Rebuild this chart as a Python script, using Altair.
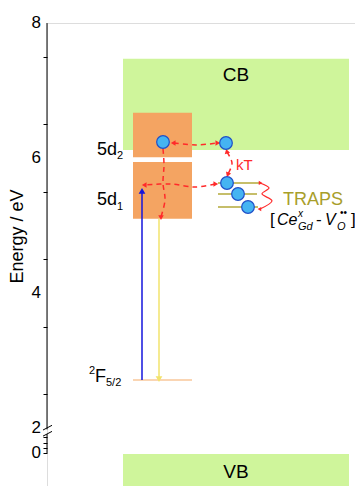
import altair as alt
import pandas as pd

FONT = "Liberation Sans"

# ---- energy axis (eV); values below 2 eV sit on a compressed, broken axis ----
major_ticks = [8, 7.5, 7, 6.5, 6, 5.5, 5, 4.5, 4, 3.5, 3, 2.5, 2]
lower_ticks = [1.63, 1.66, 1.70, 1.74, 1.78, 1.82, 1.86]
tick_label_text = ["8", "6", "4", "2", "0"]
tick_label_pos = [8, 6, 4, 2, 1.63]
axis_top = [8.0, 1.91]
axis_bottom = [1.98, 1.63]
break_x1 = [-4, -4]
break_x2 = [5, 5]
break_y1 = [1.97, 1.88]
break_y2 = [2.04, 1.95]

# ---- bands and 5d levels ----
band_names = ["CB", "VB", "5d2", "5d1"]
band_x1 = [76, 76, 86, 86]
band_x2 = [302, 302, 145, 145]
band_e1 = [6.12, 0.9, 6.01, 5.10]
band_e2 = [7.47, 1.615, 6.67, 5.94]
band_colors = ["#cff59b", "#cff59b", "#f4a462", "#f4a462"]

# ground level 2F5/2
ground_x = [86, 145]
ground_e = [2.71, 2.71]

# excitation (blue) and emission (yellow) arrows
arrow_names = ["excitation", "emission"]
arrow_x = [95, 112]
arrow_e_start = [2.71, 5.10]
arrow_e_end = [5.50, 2.74]
arrow_colors = ["#1414dc", "#f2e36c"]
arrow_angles = [0, 180]

# trap levels
trap_x1 = [171, 171, 171]
trap_x2 = [214, 210, 211]
trap_e = [5.63, 5.467, 5.274]

# electrons
el_x = [116, 179, 180, 191, 201]
el_e = [6.237, 6.222, 5.630, 5.467, 5.274]

# dashed red transfer paths (control points)
p_ids = ["a"] * 3 + ["b"] * 3 + ["c"] * 4 + ["d"] * 5
p_x = [127, 149, 170, 180, 185, 181, 168, 148, 123, 98, 116, 117, 116, 118, 114]
p_e = [6.222, 6.193, 6.222, 6.089, 5.926, 5.763, 5.615, 5.570, 5.615, 5.600,
       6.133, 5.896, 5.630, 5.378, 5.13]

# red arrowheads on the dashed paths
head_x = [127, 170, 180, 181, 98, 168, 114]
head_e = [6.222, 6.222, 6.089, 5.763, 5.600, 5.615, 5.13]
head_angle = [270, 90, 345, 200, 270, 90, 180]

# solid red trap-to-trap curve
c_x = [213, 222, 215, 225, 213]
c_e = [5.630, 5.556, 5.467, 5.363, 5.244]

# texts
txt = ["CB", "VB", "5d", "2", "5d", "1", "2", "F", "5/2", "kT", "TRAPS"]
txt_x = [189, 189, 50, 70, 50, 70, 42, 48, 59, 189, 236]
txt_e = [7.23, 1.348, 6.044, 5.99, 5.304, 5.23, 2.80, 2.681, 2.622, 5.822, 5.304]
txt_size = [19, 19, 18, 11, 18, 11, 11, 18, 11, 15, 18]
txt_color = ["#000000"] * 9 + ["#ff2a2a", "#a89e2a"]
txt_baseline = ["middle", "middle"] + ["alphabetic"] * 9

# defect notation [Ce^x_Gd - V_O^..]
def_txt = ["[", "Ce", "x", "Gd", "-", "V", "\u2022\u2022", "O", "]"]
def_x = [223, 230, 251, 251, 269, 278, 293, 290, 304]
def_e = [5.007, 5.007, 5.126, 4.933, 5.007, 5.007, 5.14, 4.933, 5.007]
def_size = [17, 16, 10, 11, 17, 16, 10, 11, 17]
def_italic = ["normal", "italic", "italic", "italic", "normal", "italic", "normal", "italic", "normal"]

# ---------------- build ----------------
xs = alt.Scale(domain=[0, 308], nice=False, zero=False)
ys = alt.Scale(domain=[1.141, 8.0], nice=False, zero=False)

bands = pd.DataFrame({"name": band_names, "x1": band_x1, "x2": band_x2,
                      "e1": band_e1, "e2": band_e2, "c": band_colors})
band_layer = alt.Chart(bands).mark_rect(clip=True).encode(
    x=alt.X("x1:Q", scale=xs, axis=None),
    x2="x2:Q",
    y=alt.Y("e1:Q", scale=ys, axis=alt.Axis(
        values=major_ticks + lower_ticks, labels=False, domain=False, grid=False,
        tickSize=4, tickColor="#000000", tickWidth=1,
        title="Energy / eV", titleFont=FONT,
        titleFontSize=18, titleFontWeight="normal", titleColor="#000000",
        titleX=-30, titleY=213, titleAngle=270, titleAlign="center", titleBaseline="middle")),
    y2="e2:Q",
    color=alt.Color("c:N", scale=None),
)

ldf = pd.DataFrame({"t": tick_label_text, "e": tick_label_pos, "x": [-6] * len(tick_label_pos)})
tick_label_layer = alt.Chart(ldf).mark_text(font=FONT, fontSize=17, align="right", baseline="middle",
                                            color="#000000").encode(
    x=alt.X("x:Q", scale=xs), y=alt.Y("e:Q", scale=ys), text="t:N")

axis_df = pd.DataFrame({"x": [0, 0], "e1": axis_top, "e2": axis_bottom})
axis_layer = alt.Chart(axis_df).mark_rule(color="#000000", strokeWidth=1).encode(
    x=alt.X("x:Q", scale=xs), y=alt.Y("e1:Q", scale=ys), y2="e2:Q")

brk = pd.DataFrame({"x1": break_x1, "x2": break_x2, "y1": break_y1, "y2": break_y2})
break_layer = alt.Chart(brk).mark_rule(color="#000000", strokeWidth=1).encode(
    x=alt.X("x1:Q", scale=xs), x2="x2:Q", y=alt.Y("y1:Q", scale=ys), y2="y2:Q")

gdf = pd.DataFrame({"x": [ground_x[0]], "x2": [ground_x[1]], "e": [ground_e[0]]})
ground_layer = alt.Chart(gdf).mark_rule(color="#f8c79a", strokeWidth=1.5).encode(
    x=alt.X("x:Q", scale=xs), x2="x2:Q", y=alt.Y("e:Q", scale=ys))

adf = pd.DataFrame({"n": arrow_names, "x": arrow_x, "e1": arrow_e_start, "e2": arrow_e_end,
                    "c": arrow_colors, "a": arrow_angles})
arrow_layer = alt.Chart(adf).mark_rule(strokeWidth=1.5).encode(
    x=alt.X("x:Q", scale=xs), y=alt.Y("e1:Q", scale=ys), y2="e2:Q",
    color=alt.Color("c:N", scale=None))
arrowhead_layer = alt.Chart(adf).mark_point(shape="triangle", filled=True, opacity=1, size=45).encode(
    x=alt.X("x:Q", scale=xs), y=alt.Y("e2:Q", scale=ys),
    color=alt.Color("c:N", scale=None), angle=alt.Angle("a:Q", scale=None))

tdf = pd.DataFrame({"x1": trap_x1, "x2": trap_x2, "e": trap_e})
trap_layer = alt.Chart(tdf).mark_rule(color="#b3a838", strokeWidth=1.5).encode(
    x=alt.X("x1:Q", scale=xs), x2="x2:Q", y=alt.Y("e:Q", scale=ys))

pdf = pd.DataFrame({"id": p_ids, "x": p_x, "e": p_e, "o": list(range(len(p_x)))})
path_layer = alt.Chart(pdf).mark_line(color="#ff2a2a", strokeWidth=1.5, strokeDash=[5, 4],
                                      interpolate="cardinal").encode(
    x=alt.X("x:Q", scale=xs), y=alt.Y("e:Q", scale=ys), detail="id:N", order="o:Q")

hdf = pd.DataFrame({"x": head_x, "e": head_e, "a": head_angle})
head_layer = alt.Chart(hdf).mark_point(shape="triangle", filled=True, opacity=1, size=30,
                                       color="#ff2a2a").encode(
    x=alt.X("x:Q", scale=xs), y=alt.Y("e:Q", scale=ys), angle=alt.Angle("a:Q", scale=None))

cdf = pd.DataFrame({"x": c_x, "e": c_e, "o": list(range(len(c_x)))})
curve_layer = alt.Chart(cdf).mark_line(color="#ff2a2a", strokeWidth=1.2, interpolate="cardinal").encode(
    x=alt.X("x:Q", scale=xs), y=alt.Y("e:Q", scale=ys), order="o:Q")
curve_heads = alt.Chart(pd.DataFrame({"x": [c_x[0], c_x[-1]], "e": [c_e[0], c_e[-1]], "a": [90, 270]})).mark_point(
    shape="triangle", filled=True, opacity=1, size=18, color="#ff2a2a").encode(
    x=alt.X("x:Q", scale=xs), y=alt.Y("e:Q", scale=ys), angle=alt.Angle("a:Q", scale=None))

edf = pd.DataFrame({"x": el_x, "e": el_e})
el_layer = alt.Chart(edf).mark_point(shape="circle", filled=True, opacity=1, size=160,
                                     fill="#45b4f2", stroke="#1f4fc8", strokeWidth=1.2).encode(
    x=alt.X("x:Q", scale=xs), y=alt.Y("e:Q", scale=ys))

txdf = pd.DataFrame({"t": txt, "x": txt_x, "e": txt_e, "s": txt_size, "c": txt_color, "b": txt_baseline})
text_mid = alt.Chart(txdf[txdf.b == "middle"]).mark_text(font=FONT, align="center", baseline="middle").encode(
    x=alt.X("x:Q", scale=xs), y=alt.Y("e:Q", scale=ys), text="t:N",
    size=alt.Size("s:Q", scale=None), color=alt.Color("c:N", scale=None))
text_left = alt.Chart(txdf[txdf.b == "alphabetic"]).mark_text(font=FONT, align="left", baseline="alphabetic").encode(
    x=alt.X("x:Q", scale=xs), y=alt.Y("e:Q", scale=ys), text="t:N",
    size=alt.Size("s:Q", scale=None), color=alt.Color("c:N", scale=None))

ddf = pd.DataFrame({"t": def_txt, "x": def_x, "e": def_e, "s": def_size, "st": def_italic})
def_norm = alt.Chart(ddf[ddf.st == "normal"]).mark_text(font=FONT, align="left", baseline="alphabetic",
                                                        color="#000000").encode(
    x=alt.X("x:Q", scale=xs), y=alt.Y("e:Q", scale=ys), text="t:N", size=alt.Size("s:Q", scale=None))
def_ital = alt.Chart(ddf[ddf.st == "italic"]).mark_text(font=FONT, align="left", baseline="alphabetic",
                                                        fontStyle="italic", color="#000000").encode(
    x=alt.X("x:Q", scale=xs), y=alt.Y("e:Q", scale=ys), text="t:N", size=alt.Size("s:Q", scale=None))

chart = alt.layer(
    band_layer, tick_label_layer, axis_layer, break_layer, ground_layer, arrow_layer, arrowhead_layer,
    trap_layer, path_layer, head_layer, curve_layer, curve_heads, el_layer,
    text_mid, text_left, def_norm, def_ital,
).properties(
    width=308, height=463,
    autosize=alt.AutoSizeParams(type="none"),
    padding={"left": 39, "top": 15, "right": 0, "bottom": 0},
).configure_view(stroke=None).configure(background="#ffffff")

chart.save("out.html", embed_options={"renderer": "svg", "actions": False})
